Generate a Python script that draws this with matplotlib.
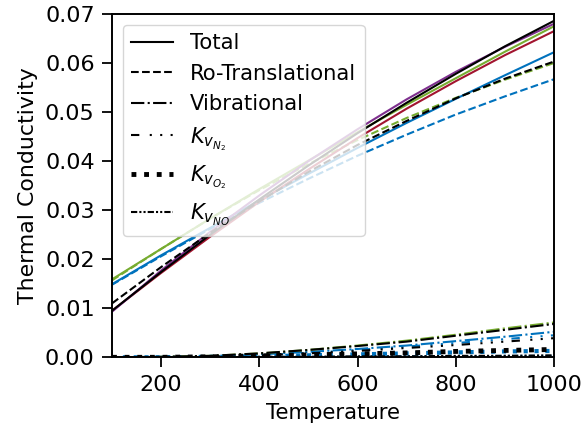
import numpy as np
import matplotlib
matplotlib.use("Agg")
import matplotlib.pyplot as plt

T = [100, 200, 300, 400, 500, 600, 700, 800, 900, 1000]

# total conductivity for each model
total_black  = [0.0095, 0.0174, 0.0250, 0.0322, 0.0391, 0.0457, 0.0519, 0.0578, 0.0634, 0.0686]
total_purple = [0.0093, 0.0177, 0.0256, 0.0330, 0.0400, 0.0465, 0.0526, 0.0582, 0.0633, 0.0680]
total_green  = [0.0159, 0.0221, 0.0283, 0.0343, 0.0401, 0.0459, 0.0515, 0.0569, 0.0623, 0.0675]
total_red    = [0.0095, 0.0172, 0.0246, 0.0317, 0.0383, 0.0447, 0.0507, 0.0563, 0.0616, 0.0665]
total_blue   = [0.0149, 0.0208, 0.0264, 0.0320, 0.0374, 0.0427, 0.0478, 0.0527, 0.0575, 0.0622]

# ro-translational part
rt_black = [0.0110, 0.0184, 0.0254, 0.0318, 0.0378, 0.0433, 0.0482, 0.0528, 0.0568, 0.0603]
rt_green = [0.0157, 0.0221, 0.0283, 0.0341, 0.0394, 0.0443, 0.0488, 0.0529, 0.0566, 0.0600]
rt_blue  = [0.0148, 0.0206, 0.0262, 0.0315, 0.0364, 0.0411, 0.0454, 0.0495, 0.0532, 0.0567]

# vibrational part
vib_black = [0.0, 0.0001, 0.0003, 0.0008, 0.0015, 0.0023, 0.0032, 0.0044, 0.0056, 0.0068]
vib_green = [0.0, 0.0001, 0.0003, 0.0008, 0.0015, 0.0024, 0.0034, 0.0046, 0.0059, 0.0071]
vib_blue  = [0.0, 0.0001, 0.0002, 0.0006, 0.0011, 0.0017, 0.0024, 0.0033, 0.0042, 0.0052]

# species contributions
kn2_black = [0.0, 0.0, 0.0001, 0.0004, 0.0008, 0.0013, 0.0019, 0.0025, 0.0032, 0.0039]
kn2_blue  = [0.0, 0.0, 0.0001, 0.0004, 0.0009, 0.0015, 0.0022, 0.0029, 0.0037, 0.0045]
ko2_black = [0.0, 0.0, 0.0001, 0.0003, 0.0005, 0.0007, 0.0009, 0.0012, 0.0014, 0.0016]
ko2_blue  = [0.0, 0.0, 0.0001, 0.0002, 0.0004, 0.0006, 0.0008, 0.0010, 0.0012, 0.0013]
kno_black = [0.0, 0.0, 0.0, 0.0001, 0.0001, 0.0002, 0.0002, 0.0003, 0.0003, 0.0004]
kno_blue  = [0.0, 0.0, 0.0, 0.0001, 0.0001, 0.0001, 0.0002, 0.0002, 0.0003, 0.0003]

purple = '#7E2F8E'
green = '#77AC30'
red = '#A2142F'
blue = '#0072BD'

ls_n2 = (0, (4, 5, 1, 4, 1, 4, 1, 4))
ls_o2 = (0, (1, 1.6))
ls_no = (0, (3, 1, 1, 1, 1, 1))

fig = plt.figure(figsize=(5.81, 4.33), dpi=100)
ax = fig.add_axes([0.1928, 0.1748, 0.7607, 0.7929])

lw = 1.5
# coloured models (drawn first)
ax.plot(T, rt_blue, '--', color=blue, lw=lw)
ax.plot(T, rt_green, '--', color=green, lw=lw)
ax.plot(T, total_blue, color=blue, lw=lw)
ax.plot(T, total_red, color=red, lw=lw)
ax.plot(T, total_green, color=green, lw=lw)
ax.plot(T, total_purple, color=purple, lw=lw)
ax.plot(T, vib_blue, '-.', color=blue, lw=lw)
ax.plot(T, vib_green, '-.', color=green, lw=lw)
ax.plot(T, kn2_blue, linestyle=ls_n2, color=blue, lw=lw)
ax.plot(T, ko2_blue, linestyle=ls_o2, color=blue, lw=3)
ax.plot(T, kno_blue, linestyle=ls_no, color=blue, lw=lw)

# black model carries the legend entries
ax.plot(T, total_black, 'k-', lw=lw, label='Total')
ax.plot(T, rt_black, 'k--', lw=lw, label='Ro-Translational')
ax.plot(T, vib_black, 'k-.', lw=lw, label='Vibrational')
ax.plot(T, kn2_black, color='k', linestyle=ls_n2, lw=lw, label=r'$K_{v_{N_2}}$')
ax.plot(T, ko2_black, color='k', linestyle=ls_o2, lw=3.5, label=r'$K_{v_{O_2}}$')
ax.plot(T, kno_black, color='k', linestyle=ls_no, lw=lw, label=r'$K_{v_{NO}}$')

ax.set_xlim(100, 1000)
ax.set_ylim(0, 0.07)
ax.set_xticks([200, 400, 600, 800, 1000])
ax.set_yticks(np.arange(0, 0.071, 0.01))
ax.tick_params(labelsize=16, width=1.3, length=7, pad=5.5)
for s in ax.spines.values():
    s.set_linewidth(1.4)
ax.set_xlabel('Temperature', fontsize=15.3, labelpad=6)
ax.set_ylabel('Thermal Conductivity', fontsize=15.8, labelpad=5)
ax.legend(loc='upper left', fontsize=15.2)

fig.savefig('out.png', dpi=100)
